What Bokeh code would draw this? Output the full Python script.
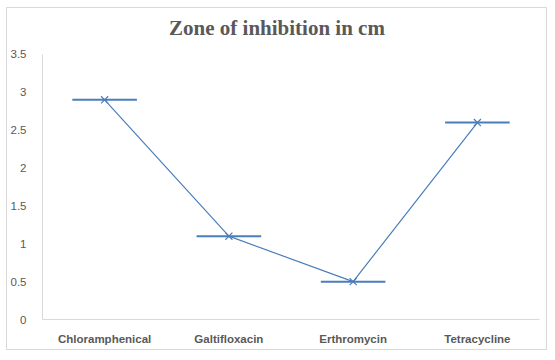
from bokeh.plotting import figure
from bokeh.models import FixedTicker, Range1d, ColumnDataSource, Label
from bokeh.embed import file_html
from bokeh.resources import INLINE

title_text = "Zone of inhibition in cm"
categories = ["Chloramphenical", "Galtifloxacin", "Erthromycin", "Tetracycline"]
values = [2.9, 1.1, 0.5, 2.6]
y_ticks = [0, 0.5, 1, 1.5, 2, 2.5, 3, 3.5]

xs = [i + 0.5 for i in range(len(categories))]
half = 0.26
src = ColumnDataSource(dict(x=xs, y=values,
                            x0=[x - half for x in xs], x1=[x + half for x in xs]))

# extra headroom above 3.5 holds the chart title inside the frame
p = figure(width=541, height=343, output_backend="svg", toolbar_location=None,
           x_range=Range1d(0, len(categories)), y_range=Range1d(0, 4),
           min_border_left=34, min_border_right=9, min_border_bottom=32, min_border_top=8)
p.styles = {"border": "1px solid #d9d9d9", "box-sizing": "border-box",
            "margin-left": "6px", "margin-top": "7px"}

p.add_layout(Label(x=len(categories) / 2, y=y_ticks[-1], x_offset=-14, y_offset=26,
                   text=title_text, text_font="Liberation Serif", text_font_style="bold",
                   text_font_size="21px", text_color="#595959",
                   text_align="center", text_baseline="alphabetic"))

p.outline_line_color = None
p.xgrid.visible = False
p.ygrid.visible = False

line_color = "#4a7ebb"
p.segment("x0", "y", "x1", "y", source=src, line_color=line_color, line_width=2)
p.line("x", "y", source=src, line_color=line_color, line_width=1.2)
p.scatter("x", "y", source=src, marker="x", size=10, line_color=line_color, line_width=1.2)

p.xaxis.ticker = FixedTicker(ticks=xs)
p.xaxis.major_label_overrides = {x: c for x, c in zip(xs, categories)}
p.yaxis.ticker = FixedTicker(ticks=y_ticks)
p.yaxis.major_label_overrides = {t: ("%g" % t) for t in y_ticks}
p.yaxis.bounds = (y_ticks[0], y_ticks[-1])

for ax in (p.xaxis, p.yaxis):
    ax.axis_line_color = "#d9d9d9"
    ax.major_tick_line_color = None
    ax.minor_tick_line_color = None
    ax.major_label_text_color = "#595959"
p.xaxis.major_label_text_font = "Liberation Sans"
p.xaxis.major_label_text_font_style = "bold"
p.xaxis.major_label_text_font_size = "11.5px"
p.xaxis.major_label_standoff = 7
p.yaxis.major_label_text_font = "Liberation Sans"
p.yaxis.major_label_text_font_size = "11.5px"
p.yaxis.major_label_standoff = 10

open("out.html", "w").write(file_html(p, INLINE))
